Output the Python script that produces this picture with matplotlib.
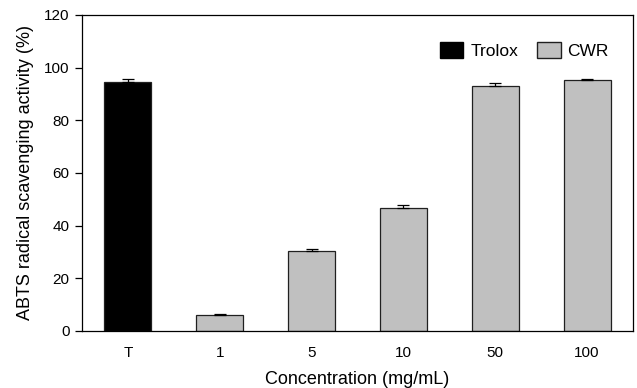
import matplotlib
matplotlib.use("Agg")
import matplotlib.pyplot as plt
from matplotlib.patches import Patch

plt.rcParams['font.family'] = ['Liberation Sans', 'DejaVu Sans']

categories = ["T", "1", "5", "10", "50", "100"]
values = [94.7, 6.2, 30.5, 46.6, 93.2, 95.3]
errors = [1.0, 0.4, 0.5, 1.1, 0.9, 0.5]
groups = ["Trolox", "CWR", "CWR", "CWR", "CWR", "CWR"]
colors_map = {"Trolox": "#000000", "CWR": "#c0c0c0"}

fig = plt.figure(figsize=(6.37, 3.88), dpi=100)
ax = fig.add_axes([82/637, 1-331/388, (633-82)/637, (331-15)/388])

x = list(range(len(categories)))
bar_colors = [colors_map[g] for g in groups]
ax.bar(x, values, width=0.51, color=bar_colors, edgecolor="#202020", linewidth=0.9, zorder=2)
ax.errorbar(x, values, yerr=[[0]*len(errors), errors], fmt="none", ecolor="black",
            elinewidth=0.9, capsize=4, capthick=0.9, zorder=3)

ax.set_xlim(-0.5, 5.5)
ax.set_ylim(0, 120)
ax.set_yticks([0, 20, 40, 60, 80, 100, 120])
ax.set_xticks(x)
ax.set_xticklabels(categories)
ax.tick_params(axis="x", length=0, pad=11, labelsize=11)
ax.tick_params(axis="y", direction="out", length=5, width=0.9, labelsize=11, pad=4)
for s in ax.spines.values():
    s.set_linewidth(0.9)

ax.set_xlabel("Concentration (mg/mL)", fontsize=13, labelpad=8)
ax.set_ylabel("ABTS radical scavenging activity (%)", fontsize=13, labelpad=7)

handles = [Patch(facecolor="#000000", edgecolor="#000000", label="Trolox"),
           Patch(facecolor="#c0c0c0", edgecolor="#202020", label="CWR")]
fig.legend(handles=handles, loc="upper right", ncol=2, frameon=False, fontsize=12.5,
           handlelength=1.35, handleheight=1.0, handletextpad=0.4, columnspacing=1.1,
           borderpad=0, borderaxespad=0,
           bbox_to_anchor=(609/637, 1-42/388), bbox_transform=fig.transFigure)

fig.savefig("out.png", dpi=100)
